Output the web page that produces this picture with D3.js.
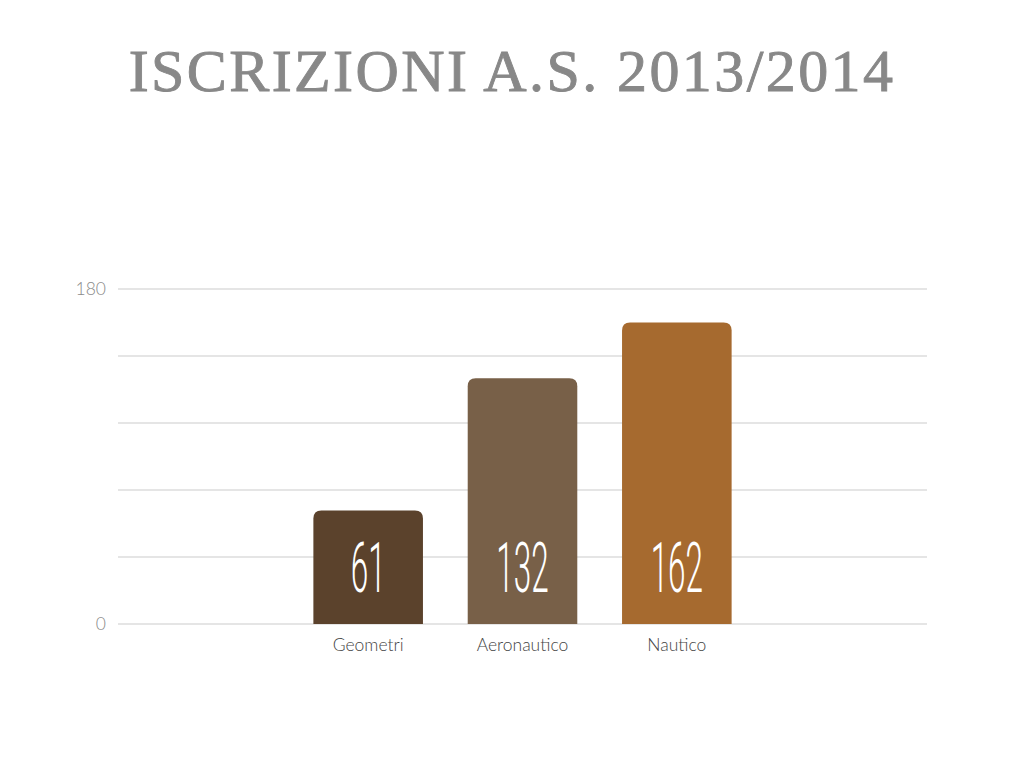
<!DOCTYPE html>
<html><head><meta charset="utf-8">
<script src="https://cdn.jsdelivr.net/npm/d3@7"></script>
<style>body{margin:0;background:#fff}svg{display:block}</style>
</head><body>
<script>
const title = "ISCRIZIONI A.S. 2013/2014";
const categories = ["Geometri", "Aeronautico", "Nautico"];
const values = [61, 132, 162];
const colors = ["#5b422c", "#786048", "#a66a2f"];
const yTickLabels = [0, 180];
const yMax = 180;

const W = 1024, H = 768;
const svg = d3.select("body").append("svg").attr("width", W).attr("height", H);

svg.append("text").attr("x", 512).attr("y", 91).attr("text-anchor", "middle")
  .attr("font-family", "Liberation Serif, serif").attr("font-size", 60)
  .attr("fill", "#888").attr("stroke", "#888").attr("stroke-width", 0.9)
  .attr("letter-spacing", 2.4).text(title);

const pLeft = 118, pRight = 927, pTop = 289, pBottom = 624;
const y = d3.scaleLinear().domain([0, yMax]).range([pBottom, pTop]);
const x = d3.scaleBand().domain(categories).range([291, 754]).paddingInner(0.29).paddingOuter(0.145);

// gridlines
svg.append("g").selectAll("line").data(d3.range(0, yMax + 1, 36)).join("line")
  .attr("x1", pLeft).attr("x2", pRight).attr("y1", d => y(d)).attr("y2", d => y(d))
  .attr("stroke", "#dcdcdc").attr("stroke-width", 1.5);

// y labels
svg.append("g").selectAll("text").data(yTickLabels).join("text")
  .attr("x", 106).attr("y", d => y(d)).attr("dy", "0.35em").attr("text-anchor", "end")
  .attr("font-family", "Lato, sans-serif").attr("font-weight", 300).attr("font-size", 17.5)
  .attr("fill", "#8a8a8a").text(d => d);

const r = 8;
svg.append("g").selectAll("path").data(values).join("path")
  .attr("d", (d, i) => {
    const x0 = x(categories[i]), w = x.bandwidth(), y0 = y(d), y1 = y(0);
    return `M${x0},${y1}V${y0 + r}Q${x0},${y0} ${x0 + r},${y0}H${x0 + w - r}Q${x0 + w},${y0} ${x0 + w},${y0 + r}V${y1}Z`;
  })
  .attr("fill", (d, i) => colors[i]);

// value labels
svg.append("g").selectAll("text").data(values).join("text")
  .attr("transform", (d, i) => `translate(${x(categories[i]) + x.bandwidth() / 2},592) scale(0.45,1)`)
  .attr("text-anchor", "middle")
  .attr("font-family", "Roboto, sans-serif").attr("font-weight", 300).attr("font-size", 70)
  .attr("fill", "#fff").text(d => d);

// category labels
svg.append("g").selectAll("text").data(categories).join("text")
  .attr("x", d => x(d) + x.bandwidth() / 2).attr("y", 651).attr("text-anchor", "middle")
  .attr("font-family", "Lato, sans-serif").attr("font-weight", 300).attr("font-size", 17.5)
  .attr("fill", "#444").text(d => d);
</script>
</body></html>
